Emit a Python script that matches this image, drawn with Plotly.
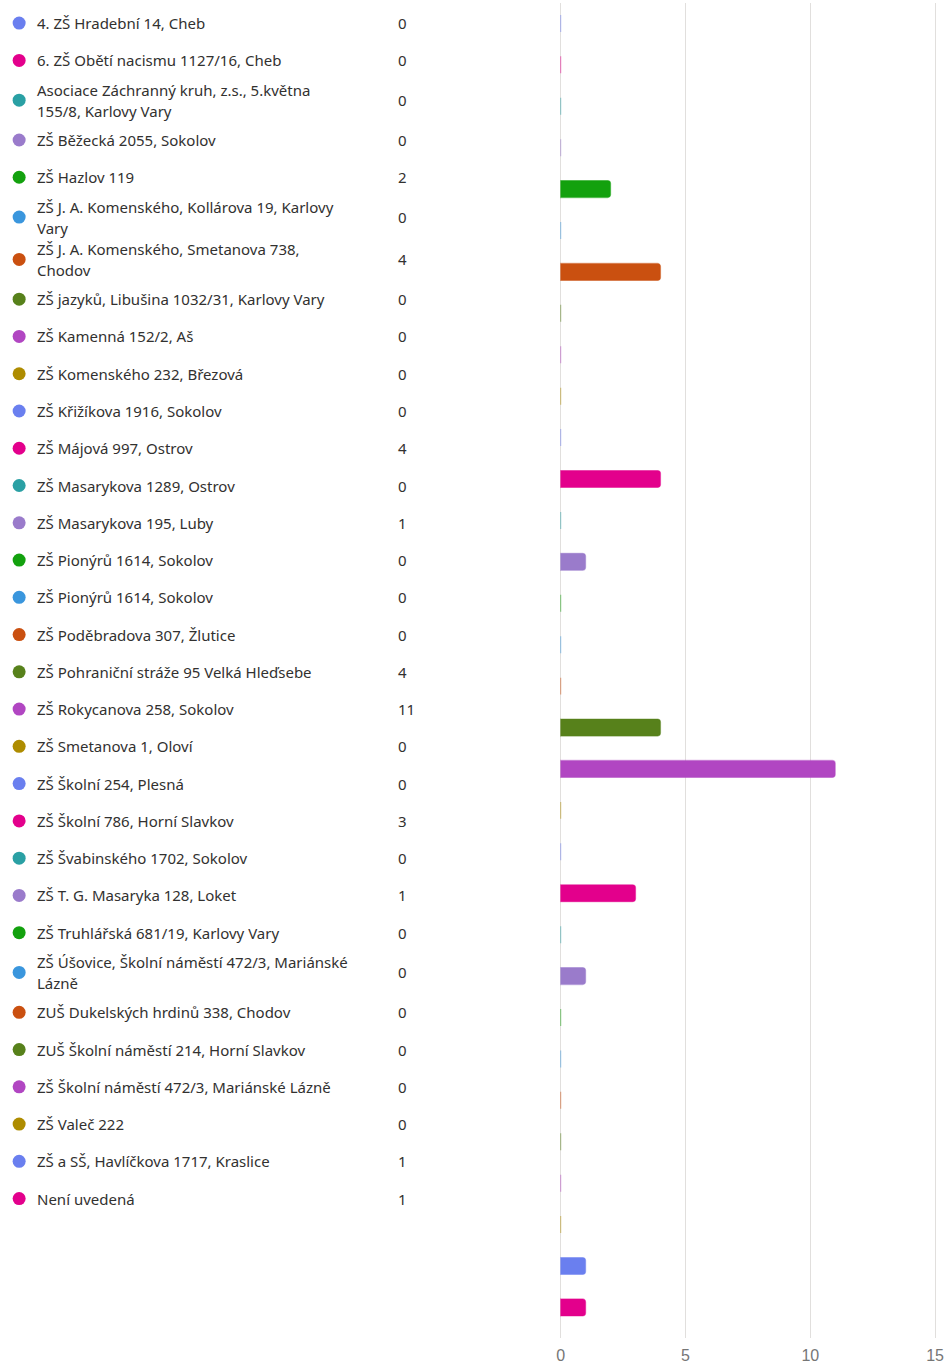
import plotly.graph_objects as go

# ---- data ----
categories = [
    "4. ZŠ Hradební 14, Cheb",
    "6. ZŠ Obětí nacismu 1127/16, Cheb",
    "Asociace Záchranný kruh, z.s., 5.května<br>155/8, Karlovy Vary",
    "ZŠ Běžecká 2055, Sokolov",
    "ZŠ Hazlov 119",
    "ZŠ J. A. Komenského, Kollárova 19, Karlovy<br>Vary",
    "ZŠ J. A. Komenského, Smetanova 738,<br>Chodov",
    "ZŠ jazyků, Libušina 1032/31, Karlovy Vary",
    "ZŠ Kamenná 152/2, Aš",
    "ZŠ Komenského 232, Březová",
    "ZŠ Křižíkova 1916, Sokolov",
    "ZŠ Májová 997, Ostrov",
    "ZŠ Masarykova 1289, Ostrov",
    "ZŠ Masarykova 195, Luby",
    "ZŠ Pionýrů 1614, Sokolov",
    "ZŠ Pionýrů 1614, Sokolov ",
    "ZŠ Poděbradova 307, Žlutice",
    "ZŠ Pohraniční stráže 95 Velká Hleďsebe",
    "ZŠ Rokycanova 258, Sokolov",
    "ZŠ Smetanova 1, Oloví",
    "ZŠ Školní 254, Plesná",
    "ZŠ Školní 786, Horní Slavkov",
    "ZŠ Švabinského 1702, Sokolov",
    "ZŠ T. G. Masaryka 128, Loket",
    "ZŠ Truhlářská 681/19, Karlovy Vary",
    "ZŠ Úšovice, Školní náměstí 472/3, Mariánské<br>Lázně",
    "ZUŠ Dukelských hrdinů 338, Chodov",
    "ZUŠ Školní náměstí 214, Horní Slavkov",
    "ZŠ Školní náměstí 472/3, Mariánské Lázně",
    "ZŠ Valeč 222",
    "ZŠ a SŠ, Havlíčkova 1717, Kraslice",
    "Není uvedená",
]
list_values = [0, 0, 0, 0, 2, 0, 4, 0, 0, 0, 0, 4, 0, 1, 0, 0, 0, 4, 11, 0,
               0, 3, 0, 1, 0, 0, 0, 0, 0, 0, 1, 1]
# bar lengths as drawn in the chart (bar order follows the category order)
bar_values = [0, 0, 0, 0, 2, 0, 4, 0, 0, 0, 0, 4, 0, 1, 0, 0, 0, 4, 11, 0,
              0, 3, 0, 1, 0, 0, 0, 0, 0, 0, 1, 1]
palette = ["#6A7FEF", "#E3008C", "#2AA0A4", "#9A7BCB", "#13A10E",
           "#3A96DD", "#CA5010", "#57811B", "#B146C2", "#AE8C00"]
x_ticks = [0, 5, 10, 15]

# ---- styles ----
W, H = 951, 1364
TEXT = "#323130"
FONT = "Noto Sans"
colors = [palette[i % len(palette)] for i in range(len(categories))]


def rgba(hexc, a):
    h = hexc.lstrip("#")
    return "rgba(%d,%d,%d,%s)" % (int(h[0:2], 16), int(h[2:4], 16), int(h[4:6], 16), a)


fig = go.Figure()

# bars
bar_ids = list(range(len(categories)))
fig.add_trace(go.Bar(
    x=bar_values, y=bar_ids, orientation="h",
    marker=dict(color=colors, cornerradius=3,
                line=dict(color=[rgba(c, 0.45) for c in colors], width=1.2)),
    xaxis="x", yaxis="y", showlegend=False, hoverinfo="skip",
))

# list rows: computed vertical layout (pixel units on the helper axis)
single_h, double_h = 37.4, 42.5
start = 4.5
centers = []
pos = start
for c in categories:
    h = double_h if "<br>" in c else single_h
    centers.append(pos + h / 2)
    pos += h

fig.add_trace(go.Scatter(
    x=[17.3] * len(categories), y=centers, mode="markers",
    marker=dict(size=13, color=colors),
    xaxis="x2", yaxis="y2", showlegend=False, hoverinfo="skip",
))

annotations = []
for c, yc, v in zip(categories, centers, list_values):
    lines = c.split("<br>")
    offs = [0] if len(lines) == 1 else [-10.5, 10.5]
    for ln, o in zip(lines, offs):
        annotations.append(dict(x=33.5, y=yc + o, xref="x2", yref="y2", text=ln.strip(),
                                showarrow=False, xanchor="left", yanchor="middle",
                                font=dict(family=FONT, size=15, color=TEXT)))
    annotations.append(dict(x=398, y=yc, xref="x2", yref="y2", text=str(v),
                            showarrow=False, xanchor="left", yanchor="middle",
                            font=dict(family=FONT, size=15, color=TEXT)))

# bar plot area in pixels: value 0 at x=564, 15 at x=942; pad range so edge gridlines show
x0_px, x15_px = 564.0, 942.0
ppu = (x15_px - x0_px) / 15.0
pad = 2.0
xr = [-pad / ppu, 15 + pad / ppu]

fig.update_layout(
    autosize=True,
    margin=dict(l=0, r=0, t=0, b=0),
    paper_bgcolor="white", plot_bgcolor="rgba(0,0,0,0)",
    bargap=0.59,
    annotations=annotations,
    xaxis=dict(domain=[(x0_px - pad) / W, (x15_px + pad) / W], range=xr, tickvals=x_ticks,
               showgrid=True, gridcolor="#E1DFDD", gridwidth=1, zeroline=False,
               showline=False, ticks="", ticklabelstandoff=6,
               tickfont=dict(family="Liberation Sans", size=16, color="#767676"), anchor="y",
               fixedrange=True),
    yaxis=dict(domain=[1 - 1343 / H, 1 - 2.7 / H], range=[31.74, -0.5],
               showticklabels=False, showgrid=False, zeroline=False, anchor="x",
               fixedrange=True),
    xaxis2=dict(domain=[0, 1], range=[0, W], visible=False, anchor="y2", fixedrange=True),
    yaxis2=dict(domain=[0, 1], range=[H, 0], visible=False, anchor="x2", fixedrange=True),
)

fig.write_html("out.html", config={"displayModeBar": False},
               default_width="100vw", default_height="100vh",
               post_script="document.body.style.margin='0';document.body.style.overflow='hidden';")
